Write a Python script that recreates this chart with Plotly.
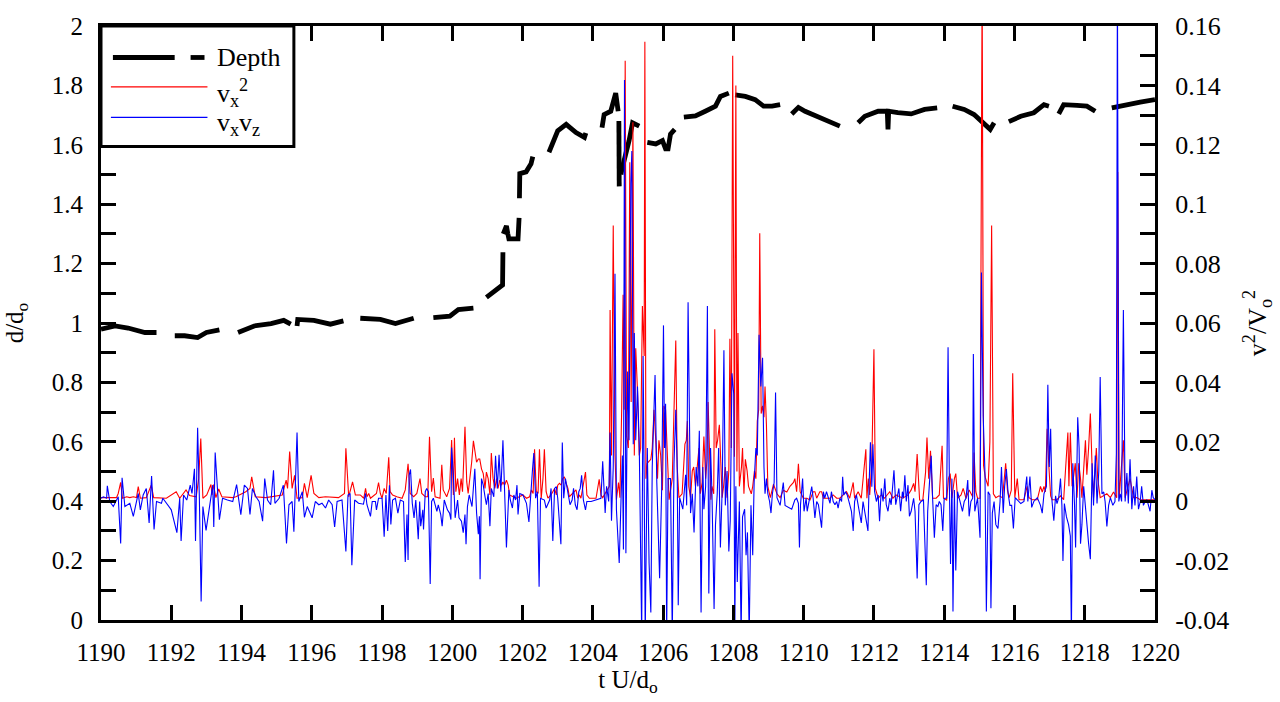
import plotly.graph_objects as go

# ---------------- data ----------------
# Depth d/d_o (None = gap in the drawn line)
depth_t = [1190.0, 1190.4, 1190.77, 1191.25, 1191.58, 1191.85,
           1192.1, 1192.38, 1192.75, 1193.0, 1193.37, 1193.6,
           1193.9, 1194.36, 1194.84, 1195.2, 1195.4, 1195.5,
           1195.58, 1195.6, 1196.06, 1196.53, 1196.9, 1197.1,
           1197.38, 1197.95, 1198.38, 1198.9, 1199.2,
           1199.46, 1199.93, 1200.17, 1200.6, 1200.8,
           1200.97, 1201.25, 1201.43, 1201.44, 1201.445,
           1201.45, 1201.54, 1201.58, 1201.61, 1201.87, 1201.9, 1201.905,
           1201.91, 1201.92, 1202.1, 1202.24, 1202.29, 1202.5,
           1202.75, 1203.0, 1203.24, 1203.52, 1203.76, 1203.8, 1204.0,
           1204.26, 1204.32, 1204.51, 1204.65, 1204.72, 1204.73,
           1204.74, 1204.75, 1204.77,
           1204.8, 1204.82, 1205.03, 1205.13, 1205.32, 1205.45,
           1205.55, 1205.79, 1205.98, 1206.07, 1206.14, 1206.21, 1206.33, 1206.45,
           1206.59, 1206.92, 1207.2, 1207.49, 1207.63, 1207.87, 1207.95,
           1208.05, 1208.34, 1208.62, 1208.86, 1209.1, 1209.33, 1209.5,
           1209.66, 1209.85, 1210.04, 1210.51, 1211.03, 1211.3,
           1211.55, 1211.74, 1212.12, 1212.38, 1212.4, 1212.42, 1212.68, 1213.06, 1213.44, 1213.8, 1214.0,
           1214.24, 1214.57, 1214.85, 1215.14, 1215.31, 1215.42, 1215.6,
           1215.84, 1216.18, 1216.55, 1216.84, 1216.98, 1217.1,
           1217.26, 1217.4, 1217.78, 1218.06, 1218.3, 1218.5,
           1218.77, 1219.1, 1219.58, 1220.0]
depth_d = [0.979, 0.99, 0.983, 0.968, 0.968, None,
           0.957, 0.957, 0.951, 0.968, 0.977, None,
           0.968, 0.99, 0.998, 1.009, 0.996, None,
           0.99, 1.012, 1.009, 0.996, 1.007, None,
           1.016, 1.012, 0.998, 1.016, None,
           1.018, 1.023, 1.045, 1.05, None,
           1.086, 1.11, 1.128, 1.238, None,
           1.30, 1.327, 1.30, 1.283, 1.283, 1.354, None,
           1.42, 1.503, 1.509, 1.536, 1.56, None,
           1.575, 1.647, 1.669, 1.641, 1.625, 1.64, None,
           1.658, 1.702, 1.713, 1.774, 1.713, None,
           1.68, 1.46, None,
           1.50, 1.514, 1.614, 1.674, 1.663, None,
           1.608, 1.603, 1.614, 1.586, 1.586, 1.636, 1.652, None,
           1.693, 1.697, 1.713, 1.73, 1.763, 1.774, None,
           1.768, 1.763, 1.752, 1.73, 1.73, 1.735, None,
           1.704, 1.726, 1.713, 1.691, 1.663, None,
           1.674, 1.696, 1.713, 1.713, 1.652, 1.713, 1.708, 1.704, 1.719, 1.724, None,
           1.73, 1.719, 1.702, 1.669, 1.652, 1.674, None,
           1.678, 1.696, 1.708, 1.735, 1.73, None,
           1.704, 1.735, 1.733, 1.73, 1.713, None,
           1.724, 1.733, 1.744, 1.752]

# v_x^2 / V_o^2, in units of 1e-3
vx2_t = [1190.00, 1190.35, 1190.44, 1190.49, 1190.56, 1190.61, 1190.73, 1190.82, 1190.92, 1191.01,
         1191.06, 1191.12, 1191.29, 1191.43, 1191.50, 1191.86, 1192.14, 1192.24, 1192.42, 1192.52,
         1192.71, 1192.78, 1192.84, 1192.90, 1193.01, 1193.13, 1193.16, 1193.20, 1193.27, 1193.35,
         1193.44, 1193.75, 1193.84, 1194.12, 1194.24, 1194.29, 1194.39, 1194.69, 1194.88, 1195.16,
         1195.27, 1195.31, 1195.37, 1195.44, 1195.51, 1195.58, 1195.73, 1195.79, 1195.87, 1195.98,
         1196.06, 1196.20, 1196.39, 1196.76, 1196.93, 1196.97, 1197.05, 1197.16, 1197.24, 1197.38,
         1197.48, 1197.53, 1197.57, 1197.62, 1197.67, 1197.84, 1197.90, 1197.95, 1198.00, 1198.06,
         1198.12, 1198.19, 1198.23, 1198.30, 1198.42, 1198.57, 1198.66, 1198.74, 1198.80, 1198.90,
         1198.99, 1199.08, 1199.13, 1199.23, 1199.30, 1199.35, 1199.41, 1199.46, 1199.51, 1199.65,
         1199.70, 1199.74, 1199.84, 1199.92, 1199.98, 1200.03, 1200.06, 1200.10, 1200.15, 1200.20,
         1200.25, 1200.29, 1200.36, 1200.41, 1200.45, 1200.50, 1200.55, 1200.60, 1200.64, 1200.69,
         1200.74, 1200.78, 1200.83, 1200.88, 1200.93, 1200.97, 1201.02, 1201.07, 1201.11, 1201.16,
         1201.21, 1201.26, 1201.30, 1201.35, 1201.40, 1201.44, 1201.49, 1201.54, 1201.59, 1201.63,
         1201.73, 1201.82, 1202.01, 1202.11, 1202.20, 1202.25, 1202.30, 1202.34, 1202.39, 1202.44,
         1202.48, 1202.53, 1202.58, 1202.62, 1202.67, 1202.72, 1202.81, 1202.86, 1202.91, 1202.96,
         1203.00, 1203.05, 1203.10, 1203.14, 1203.19, 1203.24, 1203.29, 1203.33, 1203.43, 1203.52,
         1203.57, 1203.62, 1203.66, 1203.71, 1203.79, 1203.83, 1203.90, 1204.09, 1204.18, 1204.23,
         1204.28, 1204.47, 1204.49, 1204.53, 1204.58, 1204.63, 1204.67, 1204.73, 1204.77, 1204.82,
         1204.86, 1204.89, 1204.92, 1204.96, 1205.01, 1205.05, 1205.09, 1205.14, 1205.18, 1205.22,
         1205.27, 1205.32, 1205.36, 1205.41, 1205.46, 1205.48, 1205.51, 1205.55, 1205.65, 1205.69,
         1205.74, 1205.79, 1205.84, 1205.88, 1205.93, 1205.98, 1206.02, 1206.07, 1206.12, 1206.17,
         1206.26, 1206.31, 1206.36, 1206.40, 1206.45, 1206.54, 1206.62, 1206.66, 1206.69, 1206.73,
         1206.78, 1206.83, 1206.87, 1206.92, 1207.02, 1207.06, 1207.11, 1207.16, 1207.21, 1207.25,
         1207.28, 1207.36, 1207.39, 1207.44, 1207.47, 1207.51, 1207.55, 1207.60, 1207.63, 1207.68,
         1207.72, 1207.77, 1207.82, 1207.87, 1207.90, 1207.94, 1207.98, 1208.03, 1208.07, 1208.10,
         1208.13, 1208.17, 1208.23, 1208.26, 1208.30, 1208.34, 1208.39, 1208.43, 1208.51, 1208.55,
         1208.60, 1208.64, 1208.68, 1208.72, 1208.75, 1208.79, 1208.83, 1208.87, 1208.90, 1208.94,
         1208.98, 1209.05, 1209.14, 1209.24, 1209.33, 1209.42, 1209.52, 1209.61, 1209.71, 1209.75,
         1209.80, 1209.85, 1209.90, 1209.99, 1210.09, 1210.18, 1210.27, 1210.32, 1210.37, 1210.46,
         1210.51, 1210.56, 1210.75, 1210.84, 1210.94, 1211.03, 1211.22, 1211.31, 1211.41, 1211.45,
         1211.55, 1211.64, 1211.77, 1211.80, 1211.84, 1211.88, 1211.94, 1212.00, 1212.04, 1212.12,
         1212.21, 1212.30, 1212.45, 1212.54, 1212.63, 1212.82, 1212.97, 1213.06, 1213.13, 1213.17,
         1213.23, 1213.30, 1213.39, 1213.47, 1213.51, 1213.56, 1213.61, 1213.67, 1213.77, 1213.86,
         1213.94, 1213.98, 1214.07, 1214.12, 1214.17, 1214.22, 1214.29, 1214.33, 1214.38, 1214.48,
         1214.54, 1214.62, 1214.71, 1214.81, 1214.85, 1214.90, 1214.95, 1215.02, 1215.08, 1215.12,
         1215.17, 1215.25, 1215.30, 1215.35, 1215.40, 1215.47, 1215.56, 1215.66, 1215.75, 1215.80,
         1215.85, 1215.91, 1215.95, 1216.01, 1216.08, 1216.13, 1216.27, 1216.36, 1216.41, 1216.51,
         1216.65, 1216.74, 1216.79, 1216.84, 1216.88, 1216.93, 1216.98, 1217.03, 1217.07, 1217.21,
         1217.31, 1217.40, 1217.52, 1217.55, 1217.59, 1217.64, 1217.69, 1217.73, 1217.78, 1217.83,
         1217.88, 1217.92, 1218.02, 1218.06, 1218.11, 1218.16, 1218.21, 1218.25, 1218.33, 1218.37,
         1218.44, 1218.54, 1218.63, 1218.73, 1218.82, 1218.91, 1218.94, 1218.98, 1219.10, 1219.15,
         1219.29, 1219.39, 1219.48, 1219.58, 1219.95, 1220.00]
vx2_milli = [1.2, 1.0, 1.2, 2.6, 6.3, 1.0, 1.5, 1.2, 1.5, 1.2,
             4.9, 1.0, 1.2, 5.4, 1.2, 1.0, 3.2, 1.0, 3.8, 1.9,
             1.5, 7.6, 21.1, 1.0, 2.1, 5.6, 2.1, 5.6, 1.2, 4.1,
             1.5, 1.2, 1.5, 3.2, 4.3, 8.2, 1.5, 1.2, 1.5, 2.1,
             7.1, 4.3, 16.7, 4.3, 8.7, 1.0, 1.2, 6.0, 1.2, 8.7,
             2.6, 1.2, 1.5, 1.2, 2.6, 17.8, 1.5, 6.5, 2.1, 2.1,
             1.0, 4.3, 1.5, 2.6, 1.0, 2.6, 6.3, 2.6, 1.0, 4.3,
             2.6, 14.8, 3.2, 2.1, 1.5, 1.0, 3.8, 12.6, 2.6, 1.5,
             2.6, 7.6, 2.6, 1.5, 1.5, 21.7, 3.2, 7.8, 1.5, 1.0,
             12.3, 3.8, 1.5, 4.3, 20.6, 2.1, 21.4, 3.2, 7.6, 2.1,
             7.6, 3.2, 25.1, 6.5, 2.6, 7.6, 13.1, 20.3, 17.5, 13.1,
             14.2, 14.2, 10.9, 9.3, 4.3, 9.8, 7.6, 2.1, 16.2, 7.6,
             4.3, 7.6, 4.3, 7.1, 5.4, 6.5, 5.4, 7.1, 5.4, 2.1,
             1.5, 1.0, 2.1, 1.0, 1.5, 3.8, 2.6, 17.5, 3.2, 2.6,
             17.5, 1.0, 7.6, 17.5, 3.2, 1.0, 2.1, 3.2, 4.3, 2.1,
             5.4, 6.0, 5.4, 7.6, 8.2, 6.0, 4.3, 1.5, 2.6, 3.8,
             1.0, 2.1, 1.0, 4.9, 9.8, 2.1, 1.0, 1.0, 7.4, 2.1,
             1.2, 5.0, 64.4, 15.4, 92.8, 15.4, 0.5, 6.3, 1.2, 30.8,
             69.5, 30.8, 148.3, 21.8, 17.9, 114.1, 33.4, 127.6, 15.4, 51.5,
             37.3, 15.4, 17.9, 65.7, 48.9, 154.7, 7.6, 12.8, 14.1, 17.9,
             30.8, 20.5, 7.6, 20.5, 15.4, 3.7, 32.1, 30.8, 17.9, 0.5,
             7.6, 30.8, 54.1, 11.5, 1.2, 2.5, 19.2, 20.5, 27.0, 5.0,
             1.2, 10.2, 11.5, 5.0, 17.9, 2.5, 6.3, 21.8, 7.6, 14.1,
             33.4, 0.5, 5.0, 2.5, 57.9, 17.9, 20.5, 25.7, 15.4, 1.2,
             5.0, 11.5, 1.2, 10.2, 54.7, 17.9, 150.0, 15.0, 140.0, 10.0,
             56.6, 5.0, 11.5, 17.9, 2.5, 14.1, 10.2, 5.0, 2.5, 5.0,
             10.2, 7.6, 27.0, 30.8, 90.2, 29.5, 32.1, 28.3, 38.6, 25.7,
             5.0, 1.2, 5.7, 2.5, 1.2, 3.7, 3.1, 5.0, 6.3, 7.6,
             3.2, 12.6, 3.2, 1.0, 1.0, 0.4, 3.2, 3.2, 1.0, 3.2,
             3.2, 1.0, 1.0, 2.1, 1.0, 1.0, 3.2, 1.0, 6.3, 1.0,
             3.2, 1.0, 17.5, 1.0, 7.6, 2.1, 13.1, 51.2, 4.3, 1.0,
             2.1, 1.0, 3.2, 1.0, 2.1, 1.0, 2.1, 3.8, 6.0, 3.2,
             15.9, 0.4, 0.3, 9.8, 21.4, 7.6, 17.0, 1.0, 1.0, 2.1,
             18.7, 1.0, 0.4, 7.6, 9.3, 1.0, 7.6, 9.3, 1.0, 2.1,
             4.3, 1.0, 3.8, 1.5, 16.4, 3.2, 1.0, 1.0, 175.0, 12.0,
             8.0, 5.0, 20.0, 92.8, 2.5, 1.2, 1.8, 1.2, 12.8, 3.7,
             1.2, 3.7, 43.1, 1.2, 7.6, 0.5, 0.5, 5.0, 1.2, 0.5,
             0.5, 5.0, 3.1, 5.0, 3.1, 24.4, 11.5, 1.8, 0.5, 0.5,
             1.8, 0.5, 23.1, 5.0, 23.1, 5.0, 8.9, 12.8, 1.2, 12.8,
             7.6, 1.2, 20.5, 8.9, 17.9, 29.5, 11.5, 1.2, 17.9, 7.6,
             1.2, 1.8, 2.5, 1.2, 3.1, 1.2, 110.8, 1.2, 20.5, 1.2,
             7.6, 1.2, 1.2, 0.5, 0.5, 0.5]

# v_x v_z / V_o^2, in units of 1e-3
vxvz_t = [1190.00, 1190.07, 1190.16, 1190.18, 1190.25, 1190.35, 1190.49, 1190.56, 1190.60, 1190.68,
          1190.82, 1190.92, 1191.06, 1191.12, 1191.20, 1191.29, 1191.37, 1191.44, 1191.51, 1191.58,
          1191.72, 1191.76, 1192.00, 1192.16, 1192.24, 1192.28, 1192.35, 1192.44, 1192.54, 1192.59,
          1192.66, 1192.69, 1192.75, 1192.80, 1192.85, 1192.90, 1192.99, 1193.13, 1193.18, 1193.21,
          1193.25, 1193.37, 1193.46, 1193.60, 1193.75, 1193.86, 1193.93, 1193.98, 1194.08, 1194.17,
          1194.24, 1194.31, 1194.41, 1194.50, 1194.60, 1194.66, 1194.74, 1194.83, 1194.91, 1194.95,
          1195.07, 1195.19, 1195.28, 1195.35, 1195.44, 1195.49, 1195.58, 1195.63, 1195.73, 1195.79,
          1195.87, 1196.01, 1196.10, 1196.20, 1196.29, 1196.39, 1196.48, 1196.58, 1196.65, 1196.72,
          1196.86, 1196.97, 1197.03, 1197.09, 1197.14, 1197.22, 1197.33, 1197.47, 1197.53, 1197.57,
          1197.67, 1197.72, 1197.81, 1197.84, 1197.90, 1198.00, 1198.06, 1198.11, 1198.16, 1198.21,
          1198.25, 1198.30, 1198.38, 1198.45, 1198.52, 1198.61, 1198.66, 1198.71, 1198.74, 1198.77,
          1198.81, 1198.86, 1198.91, 1198.96, 1199.03, 1199.07, 1199.10, 1199.16, 1199.18, 1199.23,
          1199.27, 1199.32, 1199.37, 1199.41, 1199.46, 1199.56, 1199.60, 1199.67, 1199.71, 1199.74,
          1199.77, 1199.86, 1199.92, 1199.96, 1199.98, 1200.03, 1200.08, 1200.15, 1200.19, 1200.26,
          1200.31, 1200.36, 1200.39, 1200.43, 1200.48, 1200.56, 1200.60, 1200.64, 1200.69, 1200.74,
          1200.77, 1200.79, 1200.83, 1200.88, 1200.93, 1200.97, 1201.02, 1201.07, 1201.11, 1201.18,
          1201.23, 1201.28, 1201.33, 1201.38, 1201.44, 1201.49, 1201.54, 1201.61, 1201.65, 1201.71,
          1201.75, 1201.80, 1201.84, 1201.87, 1201.92, 1202.01, 1202.11, 1202.18, 1202.23, 1202.28,
          1202.32, 1202.37, 1202.42, 1202.47, 1202.51, 1202.62, 1202.67, 1202.77, 1202.81, 1202.86,
          1202.91, 1202.96, 1203.00, 1203.05, 1203.09, 1203.13, 1203.17, 1203.22, 1203.27, 1203.32,
          1203.35, 1203.41, 1203.45, 1203.50, 1203.55, 1203.60, 1203.64, 1203.68, 1203.73, 1203.79,
          1203.83, 1203.95, 1204.09, 1204.23, 1204.28, 1204.35, 1204.39, 1204.45, 1204.49, 1204.53,
          1204.58, 1204.63, 1204.67, 1204.75, 1204.80, 1204.84, 1204.87, 1204.90, 1204.94, 1204.99,
          1205.03, 1205.08, 1205.11, 1205.15, 1205.18, 1205.22, 1205.27, 1205.32, 1205.39, 1205.43,
          1205.46, 1205.49, 1205.55, 1205.60, 1205.65, 1205.69, 1205.74, 1205.77, 1205.82, 1205.86,
          1205.90, 1205.96, 1206.01, 1206.04, 1206.07, 1206.10, 1206.14, 1206.21, 1206.26, 1206.31,
          1206.36, 1206.40, 1206.43, 1206.47, 1206.56, 1206.64, 1206.67, 1206.71, 1206.75, 1206.78,
          1206.83, 1206.88, 1206.94, 1206.99, 1207.03, 1207.08, 1207.13, 1207.16, 1207.21, 1207.26,
          1207.30, 1207.35, 1207.39, 1207.45, 1207.49, 1207.54, 1207.58, 1207.63, 1207.68, 1207.73,
          1207.77, 1207.82, 1207.87, 1207.91, 1207.96, 1208.01, 1208.04, 1208.07, 1208.11, 1208.17,
          1208.22, 1208.26, 1208.32, 1208.36, 1208.40, 1208.45, 1208.50, 1208.55, 1208.59, 1208.64,
          1208.68, 1208.73, 1208.78, 1208.83, 1208.87, 1208.90, 1208.94, 1208.98, 1209.03, 1209.07,
          1209.11, 1209.16, 1209.20, 1209.24, 1209.33, 1209.42, 1209.47, 1209.57, 1209.66, 1209.75,
          1209.80, 1209.85, 1209.88, 1209.91, 1209.97, 1210.01, 1210.07, 1210.10, 1210.16, 1210.23,
          1210.27, 1210.32, 1210.37, 1210.42, 1210.46, 1210.51, 1210.56, 1210.60, 1210.65, 1210.70,
          1210.75, 1210.79, 1210.84, 1210.89, 1210.94, 1210.98, 1211.03, 1211.08, 1211.11, 1211.14,
          1211.19, 1211.24, 1211.29, 1211.36, 1211.41, 1211.45, 1211.50, 1211.55, 1211.60, 1211.64,
          1211.69, 1211.74, 1211.79, 1211.83, 1211.86, 1211.90, 1211.94, 1211.97, 1212.02, 1212.07,
          1212.12, 1212.16, 1212.21, 1212.26, 1212.31, 1212.35, 1212.40, 1212.45, 1212.49, 1212.57,
          1212.62, 1212.66, 1212.71, 1212.76, 1212.81, 1212.84, 1212.88, 1212.92, 1212.97, 1213.01,
          1213.06, 1213.13, 1213.17, 1213.23, 1213.28, 1213.34, 1213.41, 1213.49, 1213.53, 1213.58,
          1213.63, 1213.67, 1213.72, 1213.77, 1213.82, 1213.86, 1213.91, 1213.96, 1214.00, 1214.07,
          1214.11, 1214.15, 1214.18, 1214.22, 1214.25, 1214.29, 1214.33, 1214.38, 1214.43, 1214.48,
          1214.52, 1214.57, 1214.62, 1214.67, 1214.71, 1214.76, 1214.81, 1214.83, 1214.87, 1214.95,
          1214.98, 1215.02, 1215.06, 1215.11, 1215.16, 1215.20, 1215.25, 1215.30, 1215.33, 1215.37,
          1215.42, 1215.47, 1215.53, 1215.59, 1215.63, 1215.68, 1215.72, 1215.77, 1215.82, 1215.87,
          1215.92, 1215.97, 1216.02, 1216.08, 1216.18, 1216.27, 1216.35, 1216.38, 1216.44, 1216.49,
          1216.55, 1216.65, 1216.74, 1216.79, 1216.84, 1216.91, 1216.95, 1216.99, 1217.03, 1217.07,
          1217.12, 1217.17, 1217.21, 1217.26, 1217.31, 1217.35, 1217.38, 1217.42, 1217.48, 1217.54,
          1217.59, 1217.62, 1217.66, 1217.71, 1217.74, 1217.80, 1217.84, 1217.88, 1217.92, 1217.97,
          1218.02, 1218.06, 1218.11, 1218.16, 1218.21, 1218.25, 1218.30, 1218.35, 1218.40, 1218.44,
          1218.49, 1218.54, 1218.58, 1218.63, 1218.68, 1218.73, 1218.80, 1218.86, 1218.90, 1218.93,
          1218.97, 1219.01, 1219.05, 1219.10, 1219.15, 1219.20, 1219.24, 1219.29, 1219.34, 1219.39,
          1219.43, 1219.48, 1219.53, 1219.58, 1219.62, 1219.67, 1219.72, 1219.77, 1219.86, 1219.91,
          1219.95, 1220.00]
vxvz_milli = [1.0, 1.5, 1.0, 5.2, -0.1, -1.8, 1.5, -14.2, 7.9, -1.8,
              -0.7, -5.1, 2.6, -2.9, 2.1, 4.3, -7.3, 8.5, -9.5, -0.1,
              -0.7, 1.0, -2.9, -10.6, 1.0, -13.4, 2.1, 0.4, 5.4, 2.6,
              10.9, -13.4, 24.7, 1.0, -33.8, -1.8, -9.8, 2.1, 5.4, -8.7,
              16.4, -6.2, 1.0, 0.4, -0.1, 5.6, -0.1, -4.5, 5.4, 4.3,
              -4.5, 4.3, 1.5, -0.1, -6.7, 7.6, 0.4, -1.2, 10.4, -0.7,
              1.0, 5.4, -14.2, -1.2, -0.1, -10.3, 23.1, -0.1, 3.2, -5.4,
              -1.8, -5.6, -0.1, -1.2, -0.7, -2.3, 0.4, -1.2, -8.7, -0.1,
              0.4, -16.9, 2.1, 2.6, -21.6, 0.4, -0.7, -1.0, 2.6, -1.2,
              -5.1, -0.1, -0.1, -2.9, 1.0, 1.0, -12.0, 2.1, -10.0, 5.4,
              -7.8, 0.4, 1.0, -4.0, 0.4, -0.1, -20.5, -4.5, -19.8, 8.7,
              10.7, -0.7, -5.6, 0.4, -12.8, -0.1, -8.4, -2.9, -9.5, 3.2,
              4.3, 3.2, -27.9, -0.1, 1.0, -3.4, -1.2, -4.5, -8.4, -2.3,
              0.4, -2.9, -4.0, -6.2, 18.1, 8.7, -5.6, 0.4, -5.6, -6.7,
              -10.6, -4.5, -14.5, -1.8, 2.1, -1.8, 4.3, 10.9, -4.0, -11.1,
              -5.1, -26.3, 7.6, 5.4, 1.5, -1.2, 2.6, -8.4, 4.3, 1.5,
              15.3, 4.3, 15.6, 3.2, 20.5, -1.2, -15.6, 3.8, 0.4, -2.3,
              2.1, 0.4, 5.4, -4.5, 2.6, 2.1, -0.7, -7.0, 3.2, 10.4,
              16.2, 1.0, 3.2, -28.8, 1.0, 0.4, -2.3, 0.4, 4.3, -13.4,
              4.3, 4.9, 1.0, -8.9, -14.5, 19.8, 1.0, 7.6, 4.3, 1.5,
              -1.2, 0.4, 4.3, -1.2, -2.9, 3.2, 4.3, 8.7, 0.4, -2.9,
              -0.1, -0.1, 0.4, 1.0, 13.4, -4.0, 5.0, -0.1, 23.1, -6.6,
              11.5, 76.6, -2.7, -20.8, -0.1, 15.4, -16.3, 141.8, -17.5, 43.7,
              20.5, 107.0, 117.9, 19.2, 56.6, 20.5, 38.6, 19.2, -45.0, 48.9,
              7.6, -45.0, 17.9, -20.8, -37.5, 11.5, 30.8, 42.5, 6.3, -7.9,
              -25.9, 5.0, 59.2, 17.9, 32.8, -45.0, 7.6, 7.6, -45.0, 12.8,
              30.8, 11.5, -35.0, 1.2, -2.7, 8.9, -1.4, 67.0, 17.9, -4.0,
              2.5, -10.5, 11.5, 5.0, 23.7, -37.5, 11.5, -2.7, 5.0, 65.7,
              -31.1, 17.9, 2.5, -36.3, -7.9, 2.5, 17.9, -15.6, 3.7, 50.8,
              -1.4, 10.2, -16.9, -6.6, 43.1, 36.0, -45.0, 5.0, -27.2, -0.1,
              -45.0, -5.3, -2.7, -18.2, -10.5, -45.0, -1.4, -18.2, 6.3, 17.9,
              15.4, 56.0, 38.6, 48.3, 11.5, 2.5, 7.6, 2.5, -0.1, -4.0,
              2.5, 6.3, 36.6, 1.2, -1.4, 6.3, -1.4, -2.1, -2.7, 0.5,
              1.0, -0.7, -15.6, -1.2, 7.6, -3.4, 1.0, -3.4, 0.4, 4.9,
              1.0, -5.6, -0.1, -1.2, -4.5, -8.9, 3.2, 1.0, 3.2, 1.0,
              -0.7, 3.2, -0.1, -1.2, -0.1, -2.3, 1.0, -0.1, 8.2, 2.1,
              3.2, 2.1, -0.1, -3.4, -10.0, -0.1, 2.1, -1.2, -5.6, -7.3,
              -0.1, -3.4, -6.7, -10.0, 4.3, 19.8, 4.9, 19.2, 3.2, -0.1,
              2.1, -6.7, 4.3, -0.1, 7.6, -1.2, -3.4, 1.0, -1.2, 10.4,
              -1.2, 1.0, 4.3, -3.4, 3.2, 1.0, 8.7, -0.1, 5.4, -5.1,
              -3.4, 1.0, -3.4, -26.0, -1.2, -0.1, 0.4, -28.3, -3.4, 6.0,
              15.3, 1.0, -12.3, -1.2, -1.8, -0.1, -1.2, -10.0, 1.0, 1.0,
              51.8, 3.2, -21.1, 7.6, -37.1, 3.8, -23.3, 3.2, 1.0, -1.2,
              -3.4, -0.1, 1.0, 7.1, -5.1, -0.1, 1.0, 49.6, -3.4, 1.0,
              -3.4, -12.3, 77.0, 28.6, 9.8, -37.1, 3.2, 2.1, -36.0, -4.0,
              -0.1, -7.9, -9.2, -0.1, 11.5, -4.0, 5.0, 10.8, 2.5, -1.4,
              -1.4, -9.2, 1.2, 0.5, -0.8, -0.1, 8.3, -0.1, 8.3, -2.1,
              -0.1, 1.2, -1.4, -4.0, 2.5, 5.0, 39.2, 11.5, 24.4, -0.1,
              -6.6, 1.8, -0.8, 1.2, 7.6, -1.4, -20.1, -0.8, -5.3, -7.9,
              -11.7, -45.0, 12.8, -1.4, -15.6, 28.3, 17.9, -14.3, -7.9, 5.0,
              -2.7, -6.6, -14.3, -19.5, 12.8, -1.4, 15.4, -0.8, 10.2, 41.8,
              2.5, 3.1, -0.1, -8.5, -1.4, 1.2, -1.4, -0.1, 16.0, 175.0,
              -0.1, 2.5, -0.1, 64.4, -0.1, 9.5, -0.8, 14.1, -2.7, 5.0,
              -1.4, 8.3, -2.7, -0.1, 5.0, -1.4, -0.1, 0.5, -3.4, 3.7,
              1.2, 0.5]

x_tick_vals = list(range(1190, 1221, 2))
left_tick_vals = [0, 0.2, 0.4, 0.6, 0.8, 1.0, 1.2, 1.4, 1.6, 1.8, 2.0]
left_tick_text = ["0", "0.2", "0.4", "0.6", "0.8", "1", "1.2", "1.4", "1.6", "1.8", "2"]
right_tick_vals = [-0.04, -0.02, 0, 0.02, 0.04, 0.06, 0.08, 0.1, 0.12, 0.14, 0.16]
right_tick_text = ["-0.04", "-0.02", "0", "0.02", "0.04", "0.06", "0.08", "0.1", "0.12", "0.14", "0.16"]

legend_labels = ["Depth", "v<sub>x</sub><sup>2</sup>", "v<sub>x</sub>v<sub>z</sub>"]
colors = ["black", "#ff0000", "#0000ff"]

# ---------------- figure ----------------
FONT = "Liberation Serif"
vx2 = [v / 1000.0 for v in vx2_milli]
vxvz = [v / 1000.0 for v in vxvz_milli]

fig = go.Figure()
fig.add_trace(go.Scatter(x=depth_t, y=depth_d, mode="lines", name=legend_labels[0],
                         connectgaps=False, line=dict(color=colors[0], width=4.8)))
fig.add_trace(go.Scatter(x=vx2_t, y=vx2, mode="lines", name=legend_labels[1],
                         yaxis="y2", line=dict(color=colors[1], width=1.1)))
fig.add_trace(go.Scatter(x=vxvz_t, y=vxvz, mode="lines", name=legend_labels[2],
                         yaxis="y2", line=dict(color=colors[2], width=1.1)))

# boxed legend (drawn in paper coordinates, top-left of the plot)
shapes = [dict(type="rect", xref="paper", yref="paper", x0=0.0, x1=0.183, y0=0.797, y1=1.0,
               line=dict(color="black", width=3), fillcolor="white", layer="above")]
shapes.append(dict(type="line", xref="paper", yref="paper", x0=0.0113, x1=0.0699, y0=0.947, y1=0.947,
                   line=dict(color="black", width=4.8), layer="above"))
shapes.append(dict(type="line", xref="paper", yref="paper", x0=0.085, x1=0.0982, y0=0.947, y1=0.947,
                   line=dict(color="black", width=4.8), layer="above"))
for yy, c in [(0.8975, colors[1]), (0.8463, colors[2])]:
    shapes.append(dict(type="line", xref="paper", yref="paper", x0=0.0094, x1=0.101, y0=yy, y1=yy,
                       line=dict(color=c, width=1.3), layer="above"))
annotations = []
for yy, txt in zip([0.947, 0.888, 0.835], legend_labels):
    annotations.append(dict(xref="paper", yref="paper", x=0.108, y=yy, xanchor="left", yanchor="middle",
                            text=txt, showarrow=False, font=dict(family=FONT, size=26, color="black")))

axis_common = dict(showline=True, linecolor="black", linewidth=3, ticks="inside",
                   ticklen=15, tickwidth=3, tickcolor="black", showgrid=False, zeroline=False)

fig.update_layout(
    width=1280, height=702,
    margin=dict(l=96, r=125, t=19, b=78),
    paper_bgcolor="white", plot_bgcolor="white",
    font=dict(family=FONT, size=25, color="black"),
    showlegend=False,
    shapes=shapes, annotations=annotations,
    xaxis=dict(range=[1190, 1220], tickvals=x_tick_vals, mirror="ticks",
               ticklabelstandoff=8,
               tickfont=dict(family=FONT, size=25, color="black"),
               title=dict(text="t U/d<sub>o</sub>", font=dict(family=FONT, size=25), standoff=6),
               **axis_common),
    yaxis=dict(range=[0, 2], tickvals=left_tick_vals, ticktext=left_tick_text,
               minor=dict(dtick=0.1, ticks="inside", ticklen=15, tickwidth=3, tickcolor="black"),
               ticklabelstandoff=10,
               tickfont=dict(family=FONT, size=25, color="black"),
               title=dict(text="d/d<sub>o</sub>", font=dict(family=FONT, size=25), standoff=22),
               **axis_common),
    yaxis2=dict(range=[-0.04, 0.16], overlaying="y", side="right",
                tickvals=right_tick_vals, ticktext=right_tick_text,
                minor=dict(dtick=0.01, ticks="inside", ticklen=15, tickwidth=3, tickcolor="black"),
                ticklabelstandoff=12,
                tickfont=dict(family=FONT, size=26, color="black"),
                title=dict(text="v<sup>2</sup>/V<sub>o</sub><sup>2</sup>", font=dict(family=FONT, size=26), standoff=20),
                **axis_common),
)

fig.write_html("out.html")
